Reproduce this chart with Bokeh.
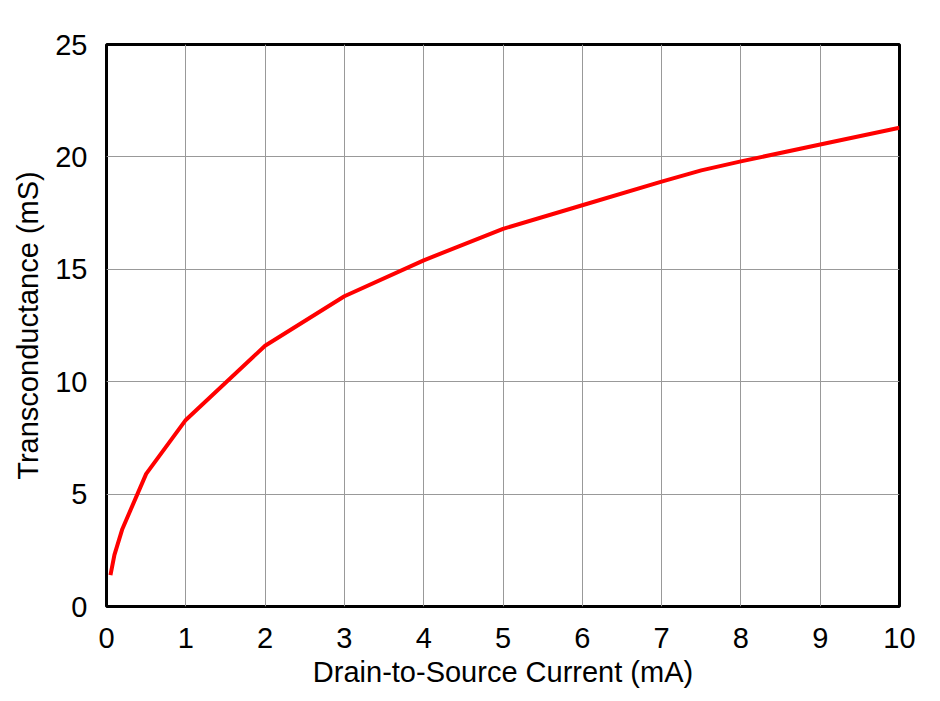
from bokeh.plotting import figure
from bokeh.embed import file_html
from bokeh.resources import INLINE
from bokeh.models import Range1d, FixedTicker

current_ma = [0.05, 0.1, 0.2, 0.5, 1, 2, 3, 4, 5, 6, 7, 7.5, 8, 9, 10]
gm_ms = [1.4, 2.3, 3.45, 5.9, 8.3, 11.6, 13.8, 15.4, 16.8, 17.85, 18.9, 19.4, 19.8, 20.55, 21.3]
x_ticks = [0, 1, 2, 3, 4, 5, 6, 7, 8, 9, 10]
y_ticks = [0, 5, 10, 15, 20, 25]

p = figure(width=920, height=690, output_backend="svg", toolbar_location=None,
           x_range=Range1d(0, 10), y_range=Range1d(0, 25),
           min_border_left=106, min_border_right=21, min_border_top=44, min_border_bottom=81)
p.line(current_ma, gm_ms, line_color="#FF0000", line_width=4)

p.outline_line_color = "black"
p.outline_line_width = 3
p.background_fill_color = "white"
p.border_fill_color = "white"

for ax in (p.xaxis[0], p.yaxis[0]):
    ax.axis_line_color = None
    ax.major_tick_line_color = None
    ax.minor_tick_line_color = None
    ax.major_label_text_font = "Liberation Sans"
    ax.major_label_text_font_size = "29px"
    ax.major_label_text_color = "black"
    ax.axis_label_text_font = "Liberation Sans"
    ax.axis_label_text_font_size = "29px"
    ax.axis_label_text_font_style = "normal"
    ax.axis_label_text_color = "black"

p.xaxis.ticker = FixedTicker(ticks=x_ticks)
p.yaxis.ticker = FixedTicker(ticks=y_ticks)
p.xaxis.axis_label = "Drain-to-Source Current (mA)"
p.yaxis.axis_label = "Transconductance (mS)"
p.xaxis.major_label_standoff = 15
p.yaxis.major_label_standoff = 13
p.xaxis.axis_label_standoff = 5
p.yaxis.axis_label_standoff = 8

p.xgrid.ticker = FixedTicker(ticks=x_ticks)
p.ygrid.ticker = FixedTicker(ticks=y_ticks)
p.xgrid.grid_line_color = "#999999"
p.ygrid.grid_line_color = "#999999"
p.xgrid.grid_line_width = 1
p.ygrid.grid_line_width = 1

open("out.html", "w").write(file_html(p, INLINE))
